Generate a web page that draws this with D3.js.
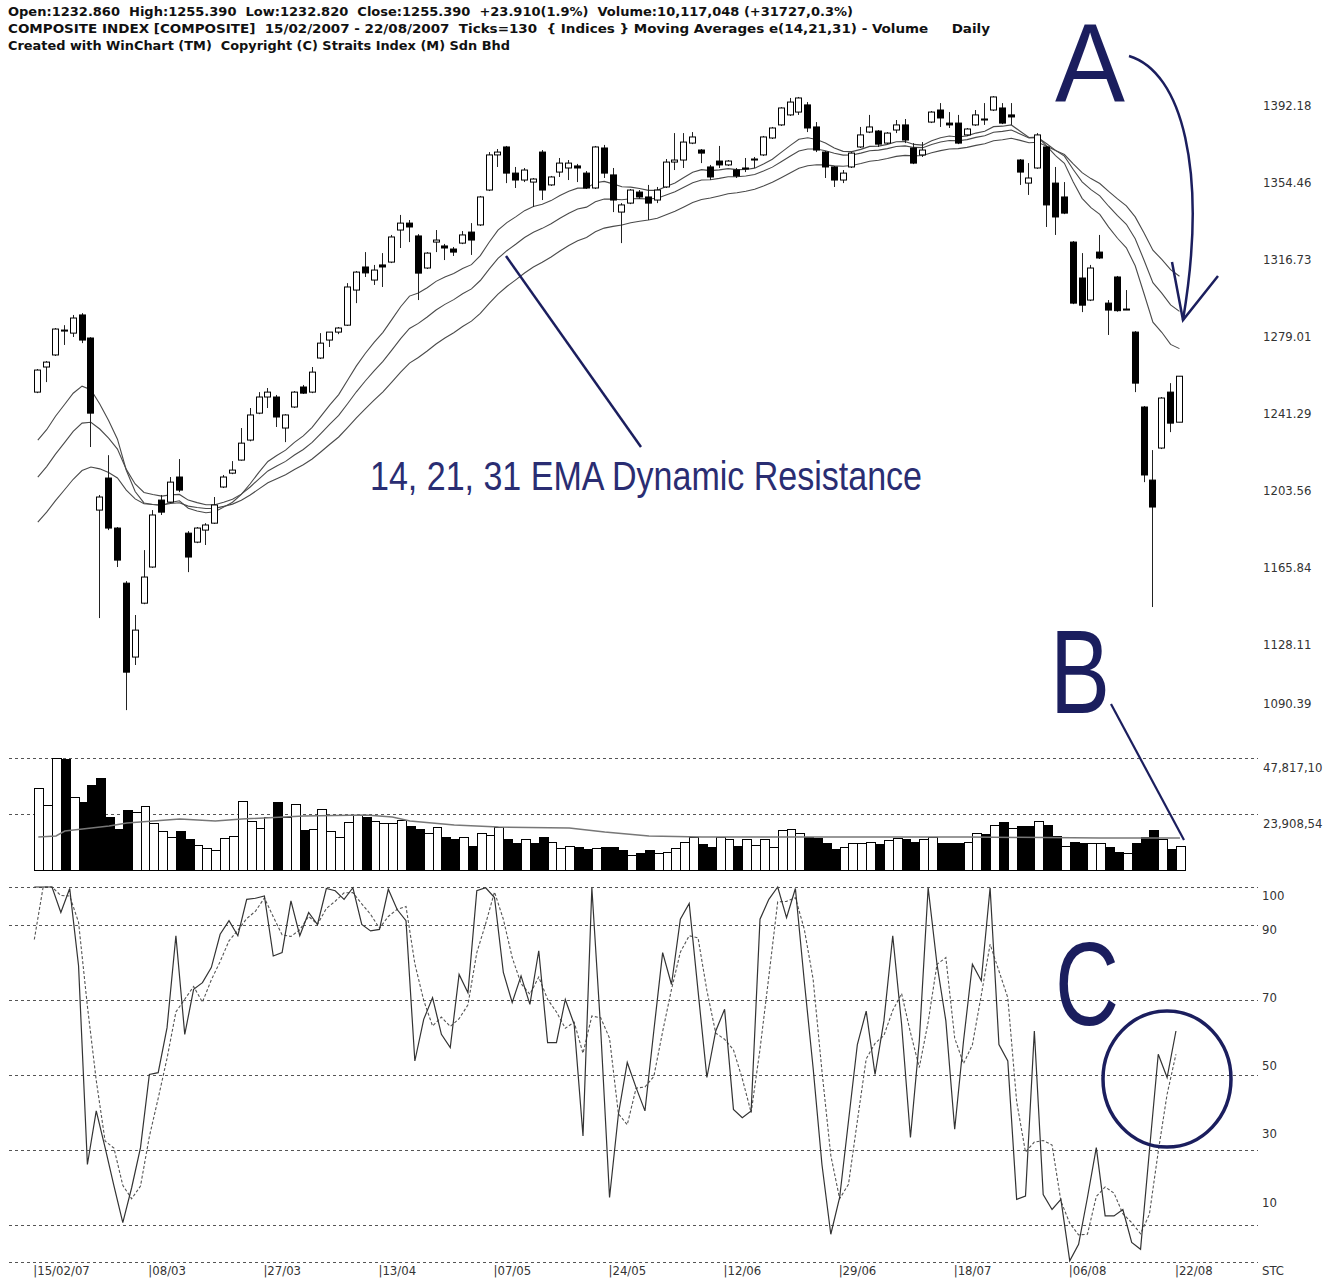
<!DOCTYPE html>
<html>
<head>
<meta charset="utf-8">
<script src="https://cdn.jsdelivr.net/npm/d3@7"></script>
<style>
body { margin: 0; background: #fff; }
svg text { white-space: pre; }
</style>
</head>
<body>
<script>
const width = 1338;
const height = 1281;
const navy = "#1b1e5e";
const narrow = "'Liberation Sans Narrow', 'DejaVu Sans Condensed', 'Liberation Sans', sans-serif";

// daily candles, 15/02/2007 - 22/08/2007 (130 ticks)
const opens = [
  1247.6,1259.9,1265.8,1277.5,1276.5,1285.4,1274.1,1189.8,1205.5,1181.0,
  1154.0,1117.8,1144.2,1161.9,1194.7,1193.7,1206.0,1178.5,1174.1,1180.0,
  1183.4,1201.1,1207.9,1214.3,1224.1,1237.3,1245.2,1245.2,1230.0,1240.3,
  1250.1,1247.6,1264.3,1273.1,1277.0,1280.4,1297.6,1308.9,1302.5,1309.9,
  1311.3,1327.0,1330.4,1324.1,1308.4,1321.1,1319.2,1317.7,1320.6,1326.0,
  1329.5,1346.6,1363.8,1367.7,1354.9,1351.5,1350.5,1365.2,1349.1,1355.4,
  1357.4,1358.4,1354.9,1347.6,1367.2,1354.0,1335.8,1340.2,1345.6,1343.2,
  1341.7,1348.1,1360.3,1361.3,1369.6,1366.2,1357.9,1360.8,1358.9,1356.4,
  1357.4,1361.3,1363.8,1372.1,1378.5,1383.4,1384.8,1388.3,1377.5,1365.2,
  1357.9,1351.5,1357.9,1367.7,1375.0,1375.5,1369.6,1376.0,1378.5,1367.2,
  1363.8,1379.9,1385.8,1379.4,1379.4,1373.6,1378.5,1380.9,1385.8,1386.8,
  1383.4,1361.3,1350.0,1357.4,1367.7,1350.0,1343.2,1321.1,1303.5,1292.7,
  1316.2,1291.2,1304.0,1288.3,1277.0,1240.3,1204.5,1220.2,1247.6,1232.86
];
const highs = [
  1258.9,1262.8,1279.0,1280.4,1285.4,1286.3,1274.5,1197.2,1216.7,1181.5,
  1155.0,1138.4,1170.2,1189.8,1197.2,1206.0,1214.8,1179.5,1181.5,1183.4,
  1196.2,1207.0,1213.8,1230.0,1239.8,1247.6,1249.6,1246.2,1236.8,1248.1,
  1251.1,1259.9,1276.5,1277.0,1279.5,1301.0,1306.9,1316.2,1309.9,1315.7,
  1324.6,1334.4,1331.9,1325.0,1316.2,1327.0,1320.2,1318.7,1326.5,1330.4,
  1343.7,1365.2,1366.7,1368.2,1357.9,1357.4,1352.5,1366.2,1353.5,1362.3,
  1361.3,1359.4,1355.9,1368.2,1368.7,1357.4,1340.2,1347.1,1346.6,1349.1,
  1348.1,1361.8,1374.5,1374.5,1375.0,1366.7,1358.9,1368.2,1361.3,1357.4,
  1362.3,1362.8,1373.1,1377.5,1387.2,1391.7,1392.2,1389.7,1379.9,1365.7,
  1358.4,1356.4,1365.2,1377.5,1383.4,1376.0,1375.0,1380.9,1381.4,1369.6,
  1370.1,1385.3,1389.2,1384.8,1383.4,1377.0,1385.8,1389.2,1392.6,1389.2,
  1389.2,1361.8,1359.8,1374.5,1368.2,1357.9,1350.5,1321.6,1315.7,1309.9,
  1324.6,1292.7,1304.5,1297.6,1277.5,1240.8,1219.2,1245.2,1252.0,1255.39
];
const lows = [
  1247.1,1252.5,1265.3,1270.7,1274.6,1271.6,1220.7,1136.9,1180.0,1161.9,
  1091.8,1113.9,1143.7,1161.5,1187.4,1193.2,1198.6,1159.4,1173.6,1172.7,
  1183.0,1200.6,1207.4,1214.0,1223.5,1236.8,1239.8,1230.5,1223.1,1239.8,
  1246.7,1247.1,1263.8,1269.7,1276.0,1280.0,1291.2,1304.0,1300.1,1299.1,
  1310.8,1318.2,1321.1,1292.7,1307.9,1316.2,1312.3,1314.3,1320.1,1314.8,
  1329.0,1346.1,1357.9,1350.0,1347.6,1350.5,1338.3,1341.7,1348.6,1353.0,
  1351.5,1350.5,1347.1,1347.1,1352.5,1335.8,1320.6,1339.7,1342.2,1331.9,
  1340.2,1347.6,1356.4,1357.4,1369.1,1359.8,1351.5,1357.4,1358.4,1352.5,
  1355.4,1357.4,1363.3,1371.6,1378.0,1382.9,1383.4,1375.0,1365.2,1352.5,
  1348.1,1350.0,1357.4,1367.2,1374.5,1367.7,1369.1,1374.5,1369.6,1359.3,
  1362.8,1379.4,1377.5,1377.0,1369.1,1373.1,1378.0,1378.5,1385.3,1378.9,
  1378.5,1349.1,1344.2,1357.0,1328.5,1324.6,1334.8,1290.7,1286.8,1292.2,
  1312.8,1275.6,1287.0,1287.8,1247.6,1203.5,1142.3,1219.7,1228.0,1232.82
];
const closes = [
  1258.4,1262.3,1278.5,1278.0,1283.9,1273.1,1237.3,1196.2,1181.0,1165.3,
  1110.4,1131.0,1157.0,1187.4,1188.8,1203.5,1199.6,1166.8,1181.0,1182.5,
  1192.3,1206.0,1209.4,1222.6,1236.4,1245.2,1247.6,1235.4,1236.4,1247.6,
  1247.1,1257.4,1271.6,1277.0,1279.0,1299.1,1306.4,1306.0,1307.4,1308.9,
  1323.6,1330.4,1328.5,1305.9,1315.7,1322.1,1318.2,1316.2,1324.6,1322.1,
  1343.2,1363.8,1365.2,1354.9,1351.5,1356.4,1352.0,1346.6,1353.0,1359.8,
  1359.8,1357.4,1347.6,1367.7,1354.9,1341.7,1339.3,1346.6,1343.2,1340.2,
  1346.6,1360.3,1361.3,1370.1,1372.6,1364.7,1353.0,1358.9,1360.8,1353.5,
  1357.0,1361.8,1372.6,1377.0,1386.8,1389.7,1391.7,1377.0,1366.2,1357.9,
  1351.5,1354.9,1364.7,1373.6,1377.5,1369.1,1374.5,1378.5,1371.1,1359.8,
  1366.2,1384.8,1381.9,1378.5,1369.6,1376.5,1383.4,1381.4,1392.2,1379.4,
  1382.4,1355.4,1352.5,1373.6,1339.3,1333.4,1335.3,1291.2,1290.2,1308.4,
  1313.3,1287.8,1287.5,1288.0,1252.0,1207.0,1191.3,1244.7,1232.4,1255.39
];
// volume in thousands
const volumes = [
  35014,27755,47824,47397,31171,29036,36295,39284,22631,17507,
  25620,24766,27328,20069,16653,14091,16653,13237,10675,9394,
  8540,13664,14518,29463,20923,17934,22631,29036,22631,28182,
  17080,17507,26047,16653,14091,20496,23485,22631,20923,20069,
  20069,21350,18788,17507,15799,18361,14091,13237,14091,10248,
  15799,14945,18361,13237,11529,13237,11529,14091,11956,9394,
  10248,9821,8967,9394,9821,9821,8540,6405,7259,8540,
  7259,7686,9394,11956,14091,11102,9821,14091,13237,10248,
  13237,10675,13237,9821,17080,17507,15799,14091,13664,11529,
  8967,9821,11529,11529,11956,11102,12810,13664,13237,11956,
  13237,14091,11529,11529,11529,11956,15799,15372,19215,20496,
  17934,18788,18788,20923,19215,14518,10248,11956,11529,11529,
  11529,9821,7686,7259,11529,14091,17080,13237,8967,10117
];
// volume moving average, read at a few ticks
const volMaIdx = [0, 2, 3, 6, 8, 10, 16, 20, 23, 30, 37, 40, 42, 47, 52, 60, 64, 69, 75, 90, 105, 120, 129];
const volMaVals = [14091, 14518, 16653, 17934, 18788, 20069, 21777, 20923, 21777, 23058, 23485, 22631,
  20923, 19215, 18361, 17934, 16226, 14518, 14091, 14091, 14091, 13664, 13664];
// STC oscillator
const stcValues = [
  100,100,100,93.2,99.6,79,26,40.3,30.5,20.3,
  10.5,19.8,30.5,50,50.5,62.5,87,60.7,72.7,74.5,
  78.5,87.4,91,87,96.7,97,97.6,81.6,82.5,96.3,
  87,93.2,90,99.6,99,96.7,99.8,90,88.3,88.7,
  99.4,94,91,53.6,64.7,70.5,60.7,57.2,76.7,71.8,
  99,99.8,97.2,77.2,69.2,76.3,68.7,83,58.5,58.5,
  70,63.4,33.6,99.8,62,17.2,39.4,53.2,46.5,40.3,
  61.6,82.5,74,91.4,95.6,72.3,49.2,61.6,67.4,40.7,
  38.5,40.3,91.4,96.7,100,91.8,99.6,75,51.8,26,
  7.4,17.2,37.6,58,66.9,50,64.3,87,63.4,33.2,
  59,99.8,79.4,64.3,35.4,59,79.4,75,99.8,58,
  53.6,16.7,17.6,61.6,18,14,16.7,0.3,4.7,17.2,
  30.5,12.3,12.3,14,5.2,3.4,29.6,55.4,49.2,61.6
];
const stcPrior = [58, 100];
const stcSignalPeriod = 3;

const emaPeriods = [14, 21, 31];
const emaSeeds = [1224.1, 1206.0, 1183.9];

const dateIdx = [0, 13, 26, 39, 52, 65, 78, 91, 104, 117, 129];
const dateLabels = ["15/02/07", "08/03", "27/03", "13/04", "07/05", "24/05", "12/06", "29/06", "18/07", "06/08", "22/08"];
const priceTicks = [1392.18, 1354.46, 1316.73, 1279.01, 1241.29, 1203.56, 1165.84, 1128.11, 1090.39];
const volTicks = [47817.10, 23908.54];
const volTickLabels = ["47,817,10", "23,908,54"];
const stcGrid = [100, 90, 70, 50, 30, 10, 0];
const stcTickLabels = [100, 90, 70, 50, 30, 10];

const headerLines = [
  "Open:1232.860  High:1255.390  Low:1232.820  Close:1255.390  +23.910(1.9%)  Volume:10,117,048 (+31727,0.3%)",
  "COMPOSITE INDEX [COMPOSITE]  15/02/2007 - 22/08/2007  Ticks=130  { Indices } Moving Averages e(14,21,31) - Volume     Daily",
  "Created with WinChart (TM)  Copyright (C) Straits Index (M) Sdn Bhd"
];
const headerWidths = [845, 982, 502];

let svg = null;
let x = null, y = null, yVol = null, yStc = null, yStcLabel = null;

function ema(values, period, seed) {
  const a = 2 / (period + 1);
  let e = seed;
  return values.map((v, i) => {
    if (i > 0) e = e + a * (v - e);
    return e;
  });
}

function sma(values, n, prior) {
  const all = prior.concat(values);
  return values.map((v, i) => d3.mean(all.slice(i + prior.length - n + 1, i + prior.length + 1)));
}

function initializeScales() {
  x = d3.scaleLinear().domain([0, 129]).range([34.3, 34.3 + 129 * 8.85]);
  y = d3.scaleLinear().domain([1090.39, 1392.18]).range([713, 97]);
  yVol = d3.scaleLinear().domain([0, 47817.10]).range([870, 758]);
  yStc = d3.scaleLinear().domain([0, 100]).range([1262, 887]);
  yStcLabel = d3.scaleLinear().domain([10, 100]).range([1202, 895]);
}

function initializeSvg() {
  svg = d3.select("body").append("svg")
    .attr("width", width)
    .attr("height", height)
    .style("background", "#fff");
}

function drawHeader() {
  svg.append("g").selectAll("text")
    .data(headerLines)
    .join("text")
    .attr("x", 8)
    .attr("y", (d, i) => 16 + i * 17)
    .attr("textLength", (d, i) => headerWidths[i])
    .attr("lengthAdjust", "spacingAndGlyphs")
    .attr("font-family", narrow)
    .attr("font-weight", "bold")
    .attr("font-size", 12.5)
    .attr("fill", "#111")
    .text(d => d);
}

function drawGrid() {
  const g = svg.append("g")
    .attr("stroke", "#555")
    .attr("stroke-dasharray", "3,3");
  g.selectAll("line.v")
    .data(volTicks)
    .join("line")
    .attr("x1", 9).attr("x2", 1258)
    .attr("y1", d => Math.round(yVol(d)) + 0.5)
    .attr("y2", d => Math.round(yVol(d)) + 0.5);
  g.selectAll("line.s")
    .data(stcGrid)
    .join("line")
    .attr("x1", 9).attr("x2", 1258)
    .attr("y1", d => Math.round(yStc(d)) + 0.5)
    .attr("y2", d => Math.round(yStc(d)) + 0.5);
}

function drawPrice() {
  const candles = d3.range(closes.length).map(i => ({
    i, o: opens[i], h: highs[i], l: lows[i], c: closes[i]
  }));

  // EMAs
  const emaLine = d3.line().x((d, i) => x(i) + 3.5).y(d => y(d));
  svg.append("g").selectAll("path")
    .data(emaPeriods.map((p, k) => ema(closes, p, emaSeeds[k])))
    .join("path")
    .attr("d", emaLine)
    .attr("fill", "none")
    .attr("stroke", "#4a4a4a")
    .attr("stroke-width", 1.1);

  const g = svg.append("g").selectAll("g")
    .data(candles)
    .join("g");

  g.append("line")
    .attr("x1", d => Math.round(x(d.i)) + 3.5)
    .attr("x2", d => Math.round(x(d.i)) + 3.5)
    .attr("y1", d => y(d.h))
    .attr("y2", d => y(d.l))
    .attr("stroke", "#222")
    .attr("stroke-width", 1);

  g.append("rect")
    .attr("x", d => Math.round(x(d.i)) + 0.5)
    .attr("width", 6)
    .attr("y", d => y(Math.max(d.o, d.c)))
    .attr("height", d => Math.max(1, Math.abs(y(d.o) - y(d.c))))
    .attr("fill", d => d.c >= d.o ? "#fff" : "#000")
    .attr("stroke", "#000")
    .attr("stroke-width", 1);

  svg.append("g").selectAll("text")
    .data(priceTicks)
    .join("text")
    .attr("x", 1263)
    .attr("y", d => Math.min(y(d) + 8, 703))
    .attr("dy", "0.35em")
    .attr("font-family", narrow)
    .attr("font-size", 13)
    .attr("fill", "#333")
    .text(d => d.toFixed(2));
}

function drawVolume() {
  const bars = volumes.map((v, i) => ({ i, v, up: i === 0 || closes[i] >= closes[i - 1] }));
  svg.append("g").selectAll("rect")
    .data(bars)
    .join("rect")
    .attr("x", d => Math.round(x(d.i)) + 0.5)
    .attr("width", d => Math.round(x(d.i + 1)) - Math.round(x(d.i)))
    .attr("y", d => Math.round(yVol(d.v)) + 0.5)
    .attr("height", d => Math.round(yVol(0)) - Math.round(yVol(d.v)))
    .attr("fill", d => d.up ? "#fff" : "#000")
    .attr("stroke", "#000")
    .attr("stroke-width", 1);

  svg.append("path")
    .datum(volMaIdx.map((k, j) => [k, volMaVals[j]]))
    .attr("d", d3.line().x(d => x(d[0]) + 4).y(d => yVol(d[1])))
    .attr("fill", "none")
    .attr("stroke", "#777")
    .attr("stroke-width", 1.5);

  svg.append("g").selectAll("text")
    .data(volTicks)
    .join("text")
    .attr("x", 1263)
    .attr("y", d => yVol(d) + 9)
    .attr("dy", "0.35em")
    .attr("font-family", narrow)
    .attr("font-size", 13)
    .attr("fill", "#333")
    .text((d, i) => volTickLabels[i]);
}

function drawStc() {
  const line = d3.line().x((d, i) => x(i)).y(d => yStc(d));
  svg.append("path")
    .datum(sma(stcValues, stcSignalPeriod, stcPrior))
    .attr("d", line)
    .attr("fill", "none")
    .attr("stroke", "#555")
    .attr("stroke-width", 1.1)
    .attr("stroke-dasharray", "3,2");
  svg.append("path")
    .datum(stcValues)
    .attr("d", line)
    .attr("fill", "none")
    .attr("stroke", "#333")
    .attr("stroke-width", 1.2);

  svg.append("g").selectAll("text")
    .data(stcTickLabels)
    .join("text")
    .attr("x", 1262)
    .attr("y", d => yStcLabel(d))
    .attr("dy", "0.35em")
    .attr("font-family", narrow)
    .attr("font-size", 13)
    .attr("fill", "#333")
    .text(d => d);

  svg.append("text")
    .attr("x", 1262).attr("y", 1275)
    .attr("font-family", narrow).attr("font-size", 13).attr("fill", "#333")
    .text("STC");

  svg.append("g").selectAll("text")
    .data(dateIdx)
    .join("text")
    .attr("x", d => x(d) - 1)
    .attr("y", 1275)
    .attr("font-family", narrow)
    .attr("font-size", 13)
    .attr("fill", "#333")
    .text((d, i) => "|" + dateLabels[i]);
}

function drawAnnotations() {
  const g = svg.append("g").attr("fill", "none").attr("stroke", navy);

  // 14, 21, 31 EMA pointer
  g.append("line").attr("x1", 506).attr("y1", 256).attr("x2", 641).attr("y2", 447).attr("stroke-width", 2.5);
  // A arrow
  g.append("path").attr("d", "M1129,56 C1182,72 1208,170 1183,320").attr("stroke-width", 2.5);
  g.append("path").attr("d", "M1172,262 L1183,320 L1218,276").attr("stroke-width", 2.5);
  // B pointer
  g.append("line").attr("x1", 1111).attr("y1", 704).attr("x2", 1184).attr("y2", 840).attr("stroke-width", 2.2);
  // C circle
  g.append("ellipse").attr("cx", 1167).attr("cy", 1079).attr("rx", 64).attr("ry", 68).attr("stroke-width", 3.5);

  svg.append("text")
    .attr("x", 370).attr("y", 490)
    .attr("textLength", 552).attr("lengthAdjust", "spacingAndGlyphs")
    .attr("font-family", "'Liberation Sans', Arial, sans-serif")
    .attr("font-size", 40)
    .attr("fill", "#2a2d72")
    .text("14, 21, 31 EMA Dynamic Resistance");

  const letters = [["A", 1055, 101, 70, 111], ["B", 1050, 713, 60, 118], ["C", 1055, 1025, 64, 118]];
  svg.append("g").selectAll("text")
    .data(letters)
    .join("text")
    .attr("x", d => d[1]).attr("y", d => d[2])
    .attr("textLength", d => d[3]).attr("lengthAdjust", "spacingAndGlyphs")
    .attr("font-family", "'Liberation Sans', Arial, sans-serif")
    .attr("font-size", d => d[4])
    .attr("fill", navy)
    .text(d => d[0]);
}

initializeScales();
initializeSvg();
drawHeader();
drawGrid();
drawVolume();
drawStc();
drawPrice();
drawAnnotations();
</script>
</body>
</html>
